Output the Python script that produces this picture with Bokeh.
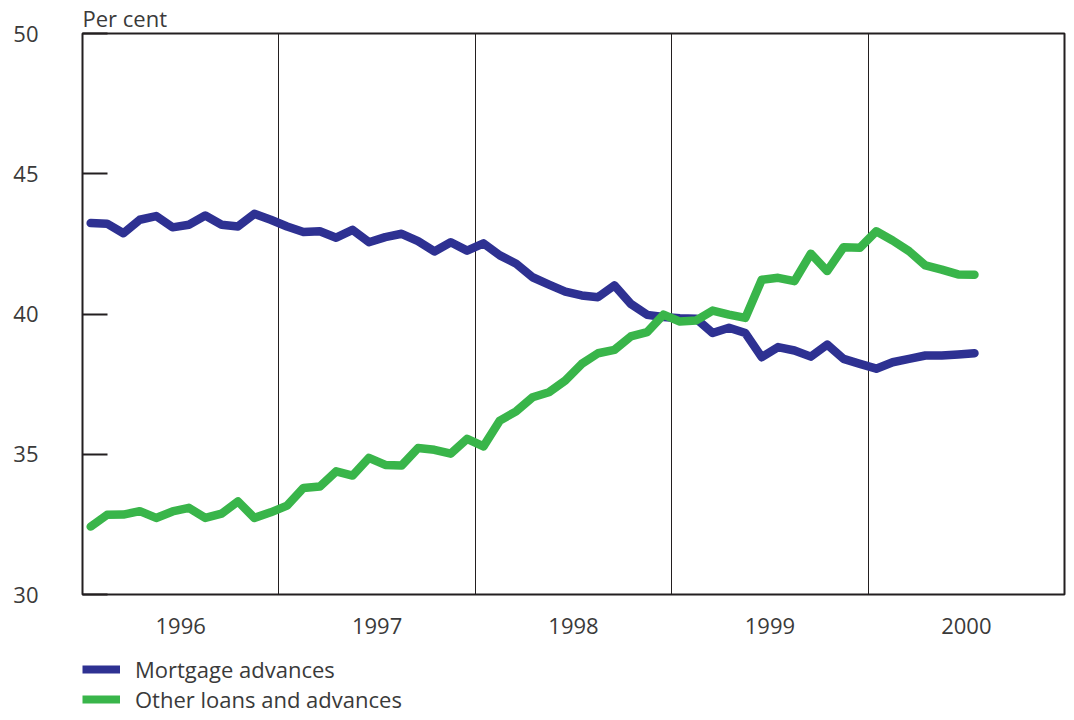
import numpy as np
from bokeh.plotting import figure
from bokeh.layouts import column
from bokeh.models import Range1d, FixedTicker, Legend, LegendItem
from bokeh.embed import file_html
from bokeh.resources import INLINE

years = ["1996", "1997", "1998", "1999", "2000"]
y_ticks = [30, 35, 40, 45, 50]

# Monthly, Jan 1996 - Jul 2000, per cent
mortgage = [43.24, 43.22, 42.88, 43.36, 43.49, 43.09, 43.18, 43.51, 43.18, 43.12, 43.57, 43.36,
            43.12, 42.92, 42.95, 42.72, 43.00, 42.56, 42.74, 42.86, 42.60, 42.23, 42.56, 42.26,
            42.52, 42.09, 41.79, 41.31, 41.05, 40.80, 40.66, 40.60, 41.02, 40.36, 39.97, 39.89,
            39.85, 39.83, 39.32, 39.51, 39.32, 38.46, 38.82, 38.70, 38.48, 38.91, 38.40, 38.22,
            38.05, 38.28, 38.40, 38.52, 38.52, 38.56, 38.60]
other = [32.42, 32.84, 32.85, 32.97, 32.73, 32.96, 33.09, 32.73, 32.88, 33.32, 32.73, 32.93,
         33.17, 33.80, 33.85, 34.39, 34.24, 34.87, 34.62, 34.60, 35.22, 35.16, 35.02, 35.55,
         35.28, 36.20, 36.53, 37.03, 37.21, 37.63, 38.22, 38.60, 38.72, 39.20, 39.35, 39.98,
         39.73, 39.77, 40.12, 39.98, 39.86, 41.22, 41.29, 41.17, 42.15, 41.53, 42.38, 42.36,
         42.95, 42.62, 42.24, 41.73, 41.58, 41.41, 41.40]
series_names = ["Mortgage advances", "Other loans and advances"]
colors = ["#2e3192", "#39b54a"]

MPY = 12
x = np.arange(len(mortgage)) + 0.5
n_months = MPY * len(years)

FONT = "Open Sans"
FS = "22px"
TXT = "#3a3a3a"
DARK = "#231f20"
W = 1066

p = figure(width=W, height=648, output_backend="svg", toolbar_location=None,
           x_range=Range1d(0, n_months), y_range=Range1d(y_ticks[0], y_ticks[-1]),
           min_border_left=82, min_border_right=2, min_border_top=33, min_border_bottom=54,
           title="Per cent")
p.title.text_font = FONT
p.title.text_font_size = FS
p.title.text_font_style = "normal"
p.title.text_color = TXT
p.title.standoff = 1
p.title.align = "left"

p.background_fill_color = "white"
p.border_fill_color = "white"
p.outline_line_color = DARK
p.outline_line_width = 2
p.outline_line_alpha = 1

# Y axis
p.yaxis.ticker = FixedTicker(ticks=y_ticks)
p.yaxis.major_tick_in = 25
p.yaxis.major_tick_out = 0
p.yaxis.major_tick_line_color = DARK
p.yaxis.major_tick_line_width = 2
p.yaxis.minor_tick_line_color = None
p.yaxis.axis_line_color = None
p.yaxis.major_label_standoff = 44
p.yaxis.major_label_text_font = FONT
p.yaxis.major_label_text_font_size = FS
p.yaxis.major_label_text_color = TXT

# X axis: year labels centred in each year
centers = [MPY * i + MPY / 2 for i in range(len(years))]
p.xaxis.ticker = FixedTicker(ticks=centers)
p.xaxis.major_label_overrides = {c: y for c, y in zip(centers, years)}
p.xaxis.major_tick_in = 0
p.xaxis.major_tick_out = 0
p.xaxis.minor_tick_line_color = None
p.xaxis.axis_line_color = None
p.xaxis.major_label_standoff = 23
p.xaxis.major_label_text_font = FONT
p.xaxis.major_label_text_font_size = FS
p.xaxis.major_label_text_color = TXT

# year separators
p.xgrid.ticker = FixedTicker(ticks=[MPY * i for i in range(1, len(years))])
p.xgrid.grid_line_color = DARK
p.xgrid.grid_line_width = 1
p.xgrid.grid_line_alpha = 1
p.ygrid.grid_line_color = None

p.line(x, mortgage, line_width=8.5, line_color=colors[0], line_join="round", line_cap="round")
p.line(x, other, line_width=8.5, line_color=colors[1], line_join="round", line_cap="round")

# Legend strip below the chart (its frame is aligned with the chart's frame)
lf = figure(width=W, height=66, output_backend="svg", toolbar_location=None,
            x_range=Range1d(0, 1), y_range=Range1d(0, 1),
            x_axis_location=None, y_axis_location=None,
            min_border_left=82, min_border_right=2, min_border_top=0, min_border_bottom=0)
lf.outline_line_color = None
lf.grid.grid_line_color = None
lf.background_fill_color = "white"
lf.border_fill_color = "white"
swatches = [lf.line(x, s, line_width=8, line_color=c, line_cap="butt")
            for s, c in zip([mortgage, other], colors)]

legend = Legend(items=[LegendItem(label=n, renderers=[r]) for n, r in zip(series_names, swatches)],
                location=(0, 0), orientation="vertical",
                glyph_width=38, glyph_height=20, label_height=20, label_standoff=15,
                spacing=0, padding=0, margin=0,
                border_line_color=None, background_fill_alpha=0,
                label_text_font=FONT, label_text_font_size=FS, label_text_color=TXT)
lf.add_layout(legend, "center")

layout = column(p, lf, spacing=0)
open("out.html", "w").write(file_html(layout, INLINE))
